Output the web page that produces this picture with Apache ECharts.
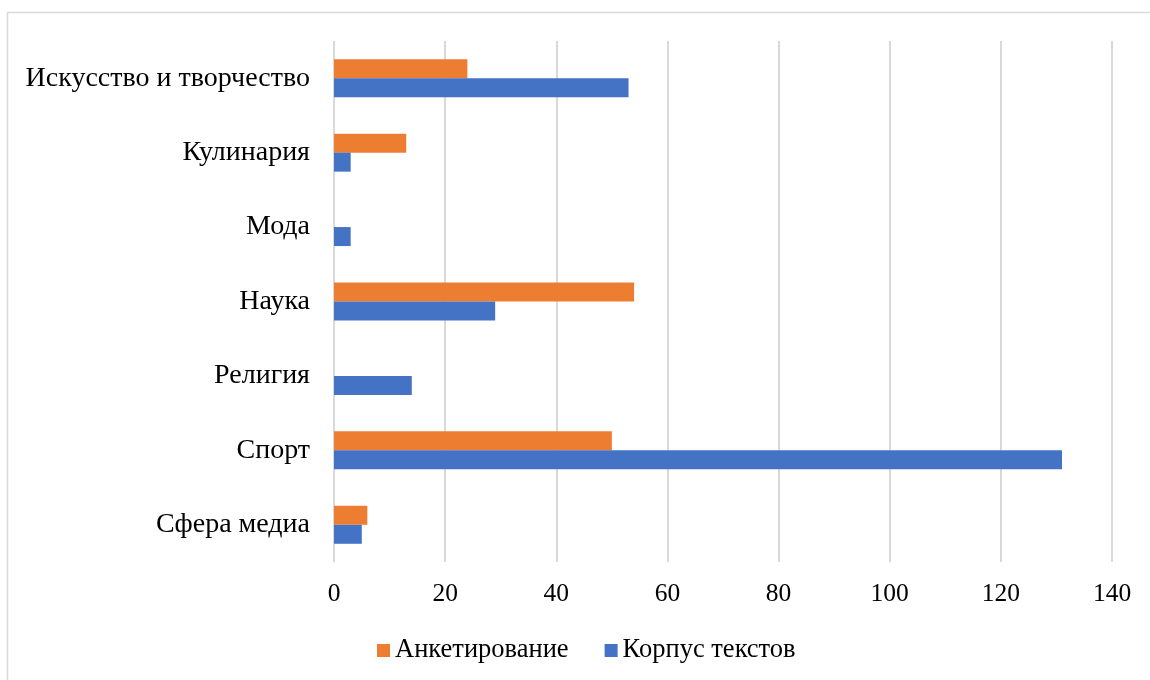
<!DOCTYPE html>
<html>
<head>
<meta charset="utf-8">
<script src="https://cdn.jsdelivr.net/npm/echarts@6/dist/echarts.min.js"></script>
<style>
  html, body { margin: 0; padding: 0; background: #fff; }
  #chart { width: 1150px; height: 680px; }
</style>
</head>
<body>
<div id="chart"></div>
<script>
// Topic areas (top to bottom)
const categories = [
  "Искусство и творчество",
  "Кулинария",
  "Мода",
  "Наука",
  "Религия",
  "Спорт",
  "Сфера медиа"
];
// Survey answers
const surveyValues = [24, 13, 0, 54, 0, 50, 6];
// Text corpus counts
const corpusValues = [53, 3, 3, 29, 14, 131, 5];
const surveyName = "Анкетирование";
const corpusName = "Корпус текстов";
// Value axis ticks
const xMin = 0, xMax = 140, xStep = 20;

const FONT = "'Liberation Serif', 'Times New Roman', serif";

const chart = echarts.init(document.getElementById('chart'));
chart.setOption({
  backgroundColor: '#fff',
  animation: false,
  textStyle: { fontFamily: FONT, color: '#000' },
  graphic: [{
    type: 'rect',
    shape: { x: 7.5, y: 12.5, width: 1200, height: 720 },
    style: { fill: 'none', stroke: '#d9d9d9', lineWidth: 1.5 },
    silent: true
  }],
  legend: {
    data: [surveyName, corpusName],
    left: 372,
    top: 632,
    icon: 'rect',
    itemWidth: 13,
    itemHeight: 13,
    itemGap: 36,
    textStyle: { fontFamily: FONT, fontSize: 26.5, color: '#000' }
  },
  grid: { left: 334, right: 38, top: 41, bottom: 118, containLabel: false },
  xAxis: {
    type: 'value',
    min: xMin, max: xMax, interval: xStep,
    axisLine: { show: false },
    axisTick: { show: false },
    axisLabel: { fontFamily: FONT, fontSize: 25.5, color: '#000', margin: 19 },
    splitLine: { lineStyle: { color: '#d9d9d9', width: 2 } }
  },
  yAxis: {
    type: 'category',
    data: categories,
    inverse: true,
    axisLine: { show: false },
    axisTick: { show: false },
    axisLabel: { fontFamily: FONT, fontSize: 28, color: '#000', margin: 24, padding: [4, 0, 0, 0] }
  },
  series: [
    {
      name: surveyName, type: 'bar', data: surveyValues,
      barWidth: 19, barGap: '0%',
      itemStyle: { color: '#ED7D31' }
    },
    {
      name: corpusName, type: 'bar', data: corpusValues,
      barWidth: 19, barGap: '0%',
      itemStyle: { color: '#4472C4' }
    }
  ]
});
</script>
</body>
</html>
